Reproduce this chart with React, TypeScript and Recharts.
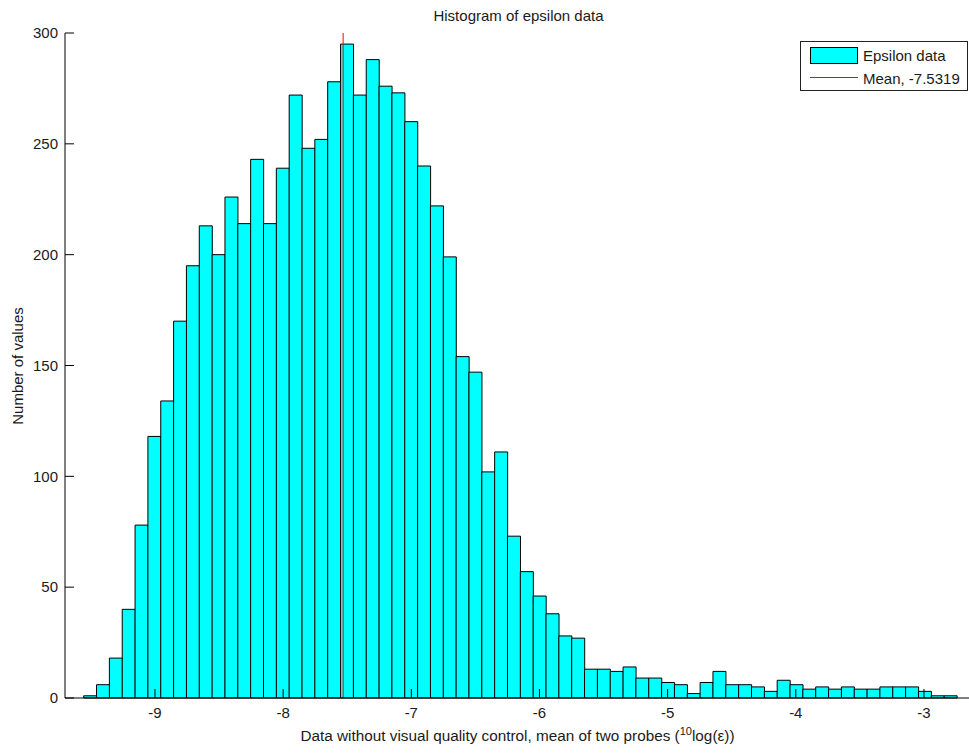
import { ComposedChart, Bar, Line, XAxis, YAxis, Legend, Label } from 'recharts';

// histogram counts per bin, left to right
const counts = [
  1, 6, 18, 40, 78, 118, 134, 170, 195, 213,
  200, 226, 214, 243, 214, 239, 272, 248, 252, 278,
  295, 272, 288, 276, 273, 260, 240, 222, 199, 154,
  147, 102, 111, 73, 57, 46, 38, 28, 27, 13,
  13, 12, 14, 9, 9, 7, 6, 2, 7, 12,
  6, 6, 5, 3, 8, 6, 4, 5, 4, 5,
  4, 4, 5, 5, 5, 3, 1, 1,
];

// regular bins: centre of the first one and the bin width
const firstBinCenter = -9.506;
const binWidth = 0.1002;

const xTicks = [-9, -8, -7, -6, -5, -4, -3];
const yTicks = [0, 50, 100, 150, 200, 250, 300];
const xDomain = [-9.702, -2.594];
const yDomain = [0, 300];

const meanValue = -7.5319;

const titleText = 'Histogram of epsilon data';
const xLabelText = 'Data without visual quality control, mean of two probes (';
const yLabelText = 'Number of values';
const seriesName = 'Epsilon data';
const meanName = `Mean, ${meanValue}`;

const data = counts.map((count, i) => ({
  center: firstBinCenter + i * binWidth,
  count,
}));

// vertical mean marker, bottom to top of the y range
const meanLine = [
  { center: meanValue, mean: yDomain[0] },
  { center: meanValue, mean: yDomain[1] },
];

const FONT = '"Liberation Sans", Arial, Helvetica, sans-serif';
const TEXT = '#1a1a1a';
const CYAN = '#00ffff';

const renderXLabel = (props: any) => {
  const { viewBox } = props;
  const cx = viewBox.x + viewBox.width / 2 - 3;
  return (
    <g>
      <text x={cx} y={741} textAnchor="middle" fontSize={15.3} fill={TEXT} fontFamily={FONT}>
        {xLabelText}
        <tspan dy={-6} fontSize={11}>10</tspan>
        <tspan dy={6}>{'log(ε))'}</tspan>
      </text>
      {/* plot title, centred over the axes */}
      <text x={cx + 1} y={21} textAnchor="middle" fontSize={15} fill={TEXT} fontFamily={FONT}>
        {titleText}
      </text>
    </g>
  );
};

const renderYLabel = () => (
  <text
    x={23}
    y={366}
    transform="rotate(-90, 23, 366)"
    textAnchor="middle"
    fontSize={15}
    fill={TEXT}
    fontFamily={FONT}
  >
    {yLabelText}
  </text>
);

// boxed legend in the top right corner
const renderLegend = () => (
  <div
    style={{
      position: 'relative',
      width: 168,
      height: 50,
      boxSizing: 'border-box',
      border: '1px solid #222',
      background: '#fff',
      fontFamily: FONT,
      fontSize: 15,
      lineHeight: '15px',
      color: TEXT,
      whiteSpace: 'nowrap',
    }}
  >
    <div
      style={{
        position: 'absolute', left: 9, top: 5, width: 48, height: 17,
        boxSizing: 'border-box', background: CYAN, border: '1px solid #000',
      }}
    />
    <span style={{ position: 'absolute', left: 62, top: 6 }}>{seriesName}</span>
    <div style={{ position: 'absolute', left: 9, top: 35, width: 48, height: 1, background: '#ff0000' }} />
    <span style={{ position: 'absolute', left: 62, top: 28.5 }}>{meanName}</span>
  </div>
);

export default function App() {
  return (
    <div
      style={{
        position: 'absolute', left: 0, top: 0, width: 969, height: 753,
        overflow: 'hidden', background: '#fff',
      }}
    >
      <ComposedChart
        width={976}
        height={753}
        data={data}
        margin={{ top: 33, right: 0, bottom: 0, left: 0 }}
        barCategoryGap={0}
        barGap={0}
      >
        <XAxis
          xAxisId="bottom"
          type="number"
          dataKey="center"
          domain={xDomain}
          ticks={xTicks}
          interval={0}
          height={55}
          tickSize={-9}
          tickMargin={18}
          stroke="#000"
          tick={{ fill: TEXT, fontSize: 15, fontFamily: FONT }}
        >
          <Label content={renderXLabel} />
        </XAxis>
        <XAxis
          xAxisId="top"
          orientation="top"
          type="number"
          dataKey="center"
          domain={xDomain}
          ticks={xTicks}
          interval={0}
          height={0}
          tickSize={-9}
          tick={false}
          stroke="#000"
        />
        <YAxis
          type="number"
          domain={yDomain}
          ticks={yTicks}
          interval={0}
          width={65}
          tickSize={-9}
          tickMargin={16}
          stroke="#000"
          tick={{ fill: TEXT, fontSize: 15, fontFamily: FONT }}
        >
          <Label content={renderYLabel} />
        </YAxis>
        <Bar
          xAxisId="bottom"
          dataKey="count"
          name={seriesName}
          fill={CYAN}
          stroke="#000"
          strokeWidth={1}
          isAnimationActive={false}
        />
        <Line
          xAxisId="top"
          data={meanLine}
          dataKey="mean"
          name={meanName}
          stroke="#ff0000"
          strokeWidth={1}
          dot={false}
          activeDot={false}
          isAnimationActive={false}
        />
        <Legend
          content={renderLegend}
          layout="vertical"
          align="center"
          verticalAlign="middle"
          wrapperStyle={{ left: 800, top: 41, width: 168, height: 50 }}
        />
      </ComposedChart>
    </div>
  );
}
